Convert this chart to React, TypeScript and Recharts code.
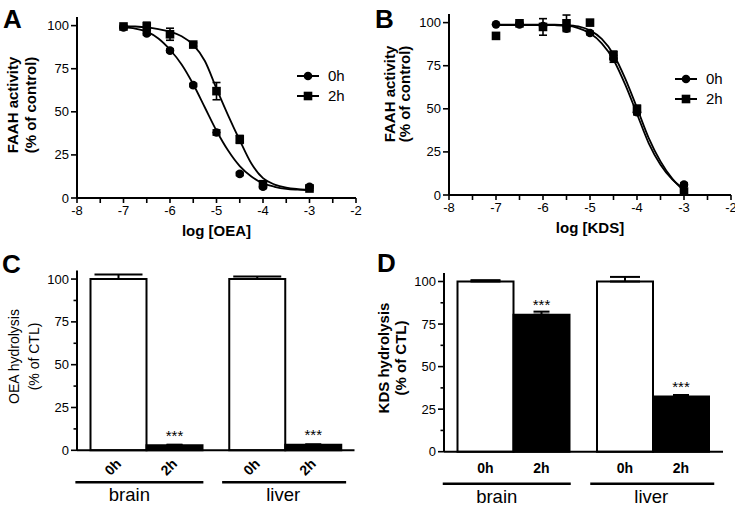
import React from 'react';
import {
  ComposedChart,
  BarChart,
  Bar,
  Line,
  Scatter,
  XAxis,
  YAxis,
  ErrorBar,
  LabelList,
  Legend,
  Label,
} from 'recharts';

const FONT = '"Liberation Sans", Arial, sans-serif';

// ---- dose-response points (A, B) ----
const logDose = [-7, -6.5, -6, -5.5, -5, -4.5, -4, -3];
const oea0h = [99, 95.5, 85.5, 65.5, 38, 14, 6.5, 6.5];
const oea0hSem = [0.5, 1, 1, 1, 1.5, 1, 1, 1];
const oea2h = [99.5, 99.5, 95, 89, 62, 34, 8, 5.5];
const oea2hSem = [0.5, 2.5, 3.5, 1, 5, 2.3, 1, 1];
const kds0h = [99, 99, 98, 96.5, 94, 79, 48, 6];
const kds0hSem = [0.5, 0.5, 1, 1, 1, 2, 1.5, 1];
const kds2h = [92.3, 99.6, 97.5, 99.6, 100, 81, 50, 2];
const kds2hSem = [0.5, 0.5, 4.8, 4.8, 0.5, 2.5, 2, 1];

// ---- fitted curves ----
const fitDose = [-7, -6.75, -6.5, -6.25, -6, -5.75, -5.5, -5.25, -5, -4.75, -4.5, -4.25, -4, -3.75, -3.5, -3.25, -3];
const oeaFit0h = [99, 98.3, 96.5, 92.5, 86, 77.5, 66, 52.5, 39, 27.5, 18.5, 12.5, 8.5, 6.5, 5.3, 4.8, 4.5];
const oeaFit2h = [99.7, 99.5, 99, 98, 96.5, 93.8, 88.8, 79.5, 63.5, 48, 33.5, 20, 11.5, 7.8, 6, 5.2, 4.8];
const kdsFit0h = [98.6, 98.6, 98.6, 98.6, 98.6, 98.5, 98.2, 96.8, 93.8, 88, 78.5, 64, 47, 30, 17.5, 9, 3.5];
const kdsFit2h = [98.8, 98.8, 98.8, 98.8, 98.8, 98.8, 98.6, 97.8, 95.5, 90.5, 81.5, 67.5, 50.5, 33, 19.5, 9.5, 2.5];

const seriesNames = ['0h', '2h'];
const doseTicks = [-8, -7.5, -7, -6.5, -6, -5.5, -5, -4.5, -4, -3.5, -3, -2.5, -2];
const pctTicks = [0, 25, 50, 75, 100];
const pctTicksMinor = [0, 12.5, 25, 37.5, 50, 62.5, 75, 87.5, 100];

// ---- hydrolysis bars (C, D) ----
const tissues = ['brain', 'liver'];
const oeaHyd0h = [100, 100];
const oeaHyd0hSem = [2.7, 1.5];
const oeaHyd2h = [3, 3.2];
const oeaHyd2hSem = [0.3, 0.3];
const kdsHyd0h = [100, 100];
const kdsHyd0hSem = [0.8, 2.7];
const kdsHyd2h = [80.5, 32.5];
const kdsHyd2hSem = [1.8, 0.8];
const sigMarks = ['***', '***'];

const points = (ys: number[], errs: number[]) =>
  logDose.map((x, i) => ({ x, y: ys[i], err: errs[i] }));
const curve = (ys: number[]) => fitDose.map((x, i) => ({ x, y: ys[i] }));
const bars = (a: number[], aErr: number[], b: number[], bErr: number[]) =>
  tissues.map((t, i) => ({
    tissue: t,
    h0: a[i],
    h0Err: [0, aErr[i]],
    h2: b[i],
    h2Err: [0, bErr[i]],
    sig: sigMarks[i],
  }));

const Dot = (p: any) => <circle cx={p.cx} cy={p.cy} r={4.3} fill="#000" />;
const Square = (p: any) => <rect x={p.cx - 4.3} y={p.cy - 4.3} width={8.6} height={8.6} fill="#000" />;

const LogTick = ({ x, y, payload }: any) =>
  Number.isInteger(payload.value) ? (
    <text x={x} y={y} dy="0.71em" textAnchor="middle" fontSize={13} fill="#000">
      {payload.value}
    </text>
  ) : (
    <g />
  );

// tickSize 6 + tickMargin 2 => axis line sits at x + 8
const PctTick = ({ x, y, payload }: any) => {
  const ax = Number(x) + 8;
  const major = payload.value % 25 === 0;
  return (
    <g>
      <line x1={ax - (major ? 6 : 3.5)} x2={ax} y1={y} y2={y} stroke="#000" strokeWidth={1.6} />
      {major && (
        <text x={x} y={y} dy="0.35em" textAnchor="end" fontSize={13} fill="#000">
          {payload.value}
        </text>
      )}
    </g>
  );
};

const yTitle = (lines: string[], xs: number[], cy: number, size: number, bold: boolean) => () => (
  <g>
    {lines.map((t, i) => (
      <text
        key={t}
        x={xs[i]}
        y={cy}
        transform={`rotate(-90 ${xs[i]} ${cy})`}
        textAnchor="middle"
        fontSize={size}
        fontWeight={bold ? 'bold' : 'normal'}
        fill="#000"
      >
        {t}
      </text>
    ))}
  </g>
);

const xTitle = (text: string, dy: number) => (props: any) => {
  const vb = props.viewBox;
  return (
    <text x={vb.x + vb.width / 2} y={vb.y + dy} textAnchor="middle" fontSize={15} fontWeight="bold" fill="#000">
      {text}
    </text>
  );
};

const DoseLegend = () => (
  <svg width={70} height={44}>
    {seriesNames.map((n, i) => {
      const cy = 8 + i * 20;
      return (
        <g key={n}>
          <line x1={0} x2={22} y1={cy} y2={cy} stroke="#000" strokeWidth={2} />
          {i === 0 ? (
            <circle cx={11} cy={cy} r={4.3} fill="#000" />
          ) : (
            <rect x={6.7} y={cy - 4.3} width={8.6} height={8.6} fill="#000" />
          )}
          <text x={31} y={cy + 5} fontSize={15} fill="#000" fontFamily={FONT}>
            {n}
          </text>
        </g>
      );
    })}
  </svg>
);

type DoseProps = {
  left: number;
  margin: { top: number; right: number; bottom: number; left: number };
  yWidth: number;
  a: number[];
  aErr: number[];
  b: number[];
  bErr: number[];
  fitA: number[];
  fitB: number[];
  xLabel: string;
  yLines: number[];
  yMid: number;
  legendPos: { left: number; top: number };
};

const DosePanel = (p: DoseProps) => (
  <div style={{ position: 'absolute', left: p.left, top: 0 }}>
    <ComposedChart width={367} height={250} margin={p.margin}>
      <XAxis
        type="number"
        dataKey="x"
        domain={[-8, -2]}
        ticks={doseTicks}
        interval={0}
        tick={LogTick}
        tickSize={5}
        tickMargin={3}
        axisLine={{ stroke: '#000', strokeWidth: 2 }}
        tickLine={{ stroke: '#000', strokeWidth: 1.6 }}
        height={30}
      >
        <Label content={xTitle(p.xLabel, 38)} />
      </XAxis>
      <YAxis
        type="number"
        domain={[0, 105]}
        ticks={pctTicks}
        interval={0}
        tick={PctTick}
        tickSize={6}
        tickMargin={2}
        tickLine={false}
        axisLine={{ stroke: '#000', strokeWidth: 2 }}
        width={p.yWidth}
      >
        <Label content={yTitle(['FAAH activity', '(% of control)'], p.yLines, p.yMid, 15, true)} />
      </YAxis>
      <Legend
        layout="vertical"
        align="center"
        verticalAlign="middle"
        content={DoseLegend}
        wrapperStyle={{ left: p.legendPos.left, top: p.legendPos.top, width: 70, height: 44 }}
      />
      <Line data={curve(p.fitA)} dataKey="y" type="monotone" stroke="#000" strokeWidth={1.8} dot={false} activeDot={false} isAnimationActive={false} />
      <Line data={curve(p.fitB)} dataKey="y" type="monotone" stroke="#000" strokeWidth={1.8} dot={false} activeDot={false} isAnimationActive={false} />
      <Scatter data={points(p.a, p.aErr)} dataKey="y" shape={Dot} isAnimationActive={false}>
        <ErrorBar dataKey="err" direction="y" width={4} stroke="#000" strokeWidth={1.6} isAnimationActive={false} />
      </Scatter>
      <Scatter data={points(p.b, p.bErr)} dataKey="y" shape={Square} isAnimationActive={false}>
        <ErrorBar dataKey="err" direction="y" width={4} stroke="#000" strokeWidth={1.6} isAnimationActive={false} />
      </Scatter>
    </ComposedChart>
  </div>
);

// per-group placement of the underline and tissue name, relative to category centre
const groupLine = [
  { from: -71, to: 57, text: -17 },
  { from: -63, to: 61, text: -2 },
];

const GroupTick = (props: any) => {
  const cx = Number(props.x);
  const ay = Number(props.y);
  const g = groupLine[props.index] || groupLine[0];
  return (
    <g>
      <line x1={cx + g.from} x2={cx + g.to} y1={ay + 32} y2={ay + 32} stroke="#000" strokeWidth={2.4} />
      <text x={cx + g.text} y={ay + 51} textAnchor="middle" fontSize={18.5} fill="#000">
        {props.payload.value}
      </text>
    </g>
  );
};

// series name written under each bar (slanted 45 degrees in panel C)
const timeLabel = (name: string, slanted: boolean) => (p: any) => {
  const bx = Number(p.x) + Number(p.width) / 2;
  const base = Number(p.y) + Number(p.height);
  if (!slanted) {
    return (
      <text x={bx} y={base + 21.5} textAnchor="middle" fontSize={14} fontWeight="bold" fill="#000">
        {name}
      </text>
    );
  }
  const tx = bx + 3.5;
  const ty = base + 14.5;
  return (
    <text x={tx} y={ty} transform={`rotate(-45 ${tx} ${ty})`} textAnchor="end" fontSize={14} fontWeight="bold" fill="#000">
      {name}
    </text>
  );
};

const SigLabel = (p: any) => (
  <text x={p.x + p.width / 2} y={p.y - 4.5} textAnchor="middle" fontSize={15} fill="#000">
    {p.value}
  </text>
);

type BarProps = {
  left: number;
  width: number;
  margin: { top: number; right: number; bottom: number; left: number };
  yWidth: number;
  xHeight: number;
  data: any[];
  slanted: boolean;
  capHalf: number;
  yLabel: string[];
  yLines: number[];
  yMid: number;
  yBold: boolean;
};

const BarPanel = (p: BarProps) => (
  <div style={{ position: 'absolute', left: p.left, top: 250 }}>
    <BarChart width={p.width} height={256} margin={p.margin} data={p.data} barGap={0} barCategoryGap={13.5}>
      <XAxis
        dataKey="tissue"
        interval={0}
        tick={GroupTick}
        tickLine={false}
        tickSize={0}
        tickMargin={0}
        axisLine={{ stroke: '#000', strokeWidth: 2 }}
        height={p.xHeight}
      />
      <YAxis
        type="number"
        domain={[0, 105]}
        ticks={pctTicksMinor}
        interval={0}
        tick={PctTick}
        tickSize={6}
        tickMargin={2}
        tickLine={false}
        axisLine={{ stroke: '#000', strokeWidth: 2 }}
        width={p.yWidth}
      >
        <Label content={yTitle(p.yLabel, p.yLines, p.yMid, p.yBold ? 15 : 14, p.yBold)} />
      </YAxis>
      <Bar dataKey="h0" fill="#fff" stroke="#000" strokeWidth={2} isAnimationActive={false}>
        <ErrorBar dataKey="h0Err" direction="y" width={p.capHalf} stroke="#000" strokeWidth={2} isAnimationActive={false} />
        <LabelList dataKey="h0" content={timeLabel(seriesNames[0], p.slanted)} />
      </Bar>
      <Bar dataKey="h2" fill="#000" stroke="#000" strokeWidth={2} isAnimationActive={false}>
        <ErrorBar dataKey="h2Err" direction="y" width={8} stroke="#000" strokeWidth={2} isAnimationActive={false} />
        <LabelList dataKey="sig" content={SigLabel} />
        <LabelList dataKey="h2" content={timeLabel(seriesNames[1], p.slanted)} />
      </Bar>
    </BarChart>
  </div>
);

const letters = [
  { t: 'A', x: 3, y: 28 },
  { t: 'B', x: 375, y: 28 },
  { t: 'C', x: 2, y: 273 },
  { t: 'D', x: 377, y: 272 },
];

export default function App() {
  return (
    <div style={{ position: 'absolute', left: 0, top: 0, width: 735, height: 506, background: '#fff', fontFamily: FONT }}>
      <DosePanel
        left={0}
        margin={{ top: 17, right: 11, bottom: 22, left: 0 }}
        yWidth={77}
        a={oea0h}
        aErr={oea0hSem}
        b={oea2h}
        bErr={oea2hSem}
        fitA={oeaFit0h}
        fitB={oeaFit2h}
        xLabel="log [OEA]"
        yLines={[18, 35.5]}
        yMid={105}
        legendPos={{ left: 297, top: 68 }}
      />
      <DosePanel
        left={368}
        margin={{ top: 14, right: 4, bottom: 25, left: 0 }}
        yWidth={81}
        a={kds0h}
        aErr={kds0hSem}
        b={kds2h}
        bErr={kds2hSem}
        fitA={kdsFit0h}
        fitB={kdsFit2h}
        xLabel="log [KDS]"
        yLines={[26.5, 42]}
        yMid={94}
        legendPos={{ left: 307, top: 71 }}
      />
      <BarPanel
        left={0}
        width={368}
        margin={{ top: 20.5, right: 13.5, bottom: 0, left: 0 }}
        yWidth={77}
        xHeight={55.7}
        data={bars(oeaHyd0h, oeaHyd0hSem, oeaHyd2h, oeaHyd2hSem)}
        slanted
        capHalf={24}
        yLabel={['OEA hydrolysis', '(% of CTL)']}
        yLines={[18.5, 38.5]}
        yMid={106.5}
        yBold={false}
      />
      <BarPanel
        left={368}
        width={367}
        margin={{ top: 23, right: 12, bottom: 0, left: 0 }}
        yWidth={76}
        xHeight={54.3}
        data={bars(kdsHyd0h, kdsHyd0hSem, kdsHyd2h, kdsHyd2hSem)}
        slanted={false}
        capHalf={15}
        yLabel={['KDS hydrolysis', '(% of CTL)']}
        yLines={[21, 37.5]}
        yMid={108}
        yBold
      />
      <svg width={735} height={506} style={{ position: 'absolute', left: 0, top: 0, pointerEvents: 'none' }}>
        {letters.map((l) => (
          <text key={l.t} x={l.x} y={l.y} fontSize={26} fontWeight="bold" fill="#000" fontFamily={FONT}>
            {l.t}
          </text>
        ))}
      </svg>
    </div>
  );
}
